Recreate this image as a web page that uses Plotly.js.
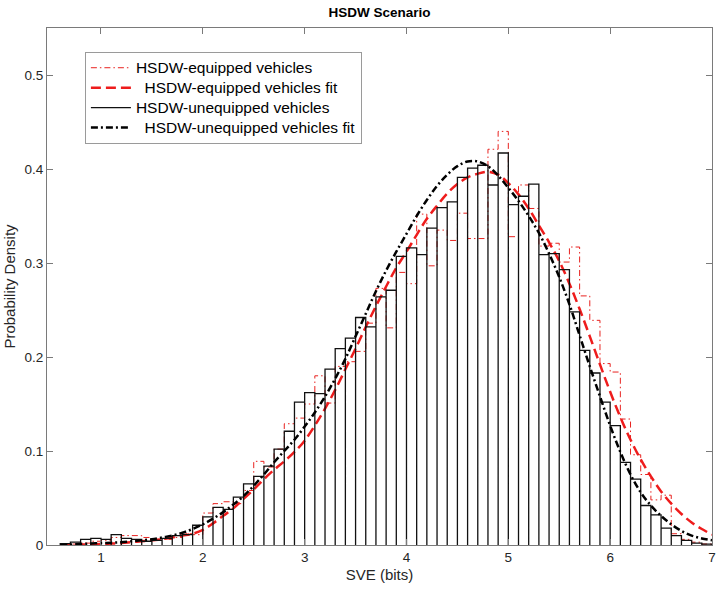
<!DOCTYPE html>
<html><head><meta charset="utf-8">
<script src="https://cdn.plot.ly/plotly-3.0.1.min.js"></script>
<style>html,body{margin:0;padding:0;background:#fff;} #chart{width:718px;height:591px;}</style>
</head><body><div id="chart"></div>
<script>
// Histogram bin edges (SVE, bits)
const binEdges = [0.6,0.7,0.8,0.9,1.0,1.1,1.2,1.3,1.4,1.5,1.6,1.7,1.8,1.9,2.0,2.1,2.2,2.3,2.4,2.5,2.6,2.7,2.8,2.9,3.0,3.1,3.2,3.3,3.4,3.5,3.6,3.7,3.8,3.9,4.0,4.1,4.2,4.3,4.4,4.5,4.6,4.7,4.8,4.9,5.0,5.1,5.2,5.3,5.4,5.5,5.6,5.7,5.8,5.9,6.0,6.1,6.2,6.3,6.4,6.5,6.6,6.7,6.8,6.9,7.0];

// HSDW-equipped vehicles (red dash-dot stairs), probability density per bin
const equippedDensity = [0.000,0.001,0.002,0.004,0.005,0.008,0.010,0.010,0.008,0.006,0.006,0.008,0.012,0.011,
  0.034,0.044,0.046,0.044,0.058,0.089,0.083,0.102,0.129,0.135,
  0.150,0.180,0.151,0.190,0.195,0.206,0.236,0.273,0.231,0.290,
  0.278,0.352,0.297,0.335,0.324,0.353,0.326,0.326,0.421,0.440,
  0.328,0.383,0.358,0.318,0.321,0.301,0.317,0.265,0.239,0.193,
  0.184,0.134,0.096,0.075,0.048,0.053,0.012,0.006,0.003,0.001];

// HSDW-unequipped vehicles (black bars)
const unequippedDensity = [0.0015,0.003,0.006,0.007,0.006,0.011,0.007,0.006,0.004,0.005,0.007,0.010,0.011,0.021,
  0.030,0.040,0.038,0.051,0.065,0.073,0.084,0.102,0.121,0.152,
  0.162,0.161,0.187,0.209,0.220,0.242,0.232,0.264,0.271,0.307,
  0.316,0.309,0.337,0.359,0.365,0.391,0.401,0.404,0.383,0.417,
  0.362,0.371,0.384,0.309,0.310,0.293,0.248,0.207,0.183,0.152,
  0.127,0.088,0.070,0.042,0.032,0.018,0.010,0.005,0.002,0.001];

// Fitted curves
const fitX = [0.6,0.7,0.8,0.9,1.0,1.1,1.2,1.3,1.4,1.5,1.6,1.7,1.8,1.9,2.0,2.1,2.2,2.3,2.4,2.5,2.6,2.7,2.8,2.9,3.0,3.1,3.2,3.3,3.4,3.5,3.6,3.7,3.8,3.9,4.0,4.1,4.2,4.3,4.4,4.5,4.6,4.7,4.8,4.9,5.0,5.1,5.2,5.3,5.4,5.5,5.6,5.7,5.8,5.9,6.0,6.1,6.2,6.3,6.4,6.5,6.6,6.7,6.8,6.9,7.0];
const equippedFit = [0.000,0.0003,0.0005,0.0008,0.001,0.0015,0.002,0.003,0.004,0.005,0.006,0.008,0.010,0.012,
  0.016,0.023,0.031,0.039,0.049,0.059,0.070,0.080,0.089,0.099,
  0.111,0.127,0.145,0.165,0.187,0.209,0.232,0.254,0.275,0.295,
  0.312,0.330,0.347,0.361,0.374,0.384,0.391,0.395,0.397,0.394,
  0.385,0.373,0.358,0.340,0.322,0.302,0.278,0.251,0.222,0.192,
  0.163,0.136,0.112,0.091,0.073,0.057,0.044,0.033,0.024,0.017,0.011];
const unequippedFit = [0.000,0.0005,0.001,0.0015,0.002,0.0025,0.003,0.004,0.005,0.006,0.008,0.010,0.013,0.017,
  0.022,0.028,0.035,0.043,0.052,0.063,0.075,0.088,0.100,0.112,
  0.126,0.141,0.158,0.177,0.198,0.222,0.246,0.270,0.292,0.312,
  0.331,0.350,0.367,0.382,0.394,0.403,0.408,0.408,0.403,0.393,
  0.380,0.366,0.350,0.332,0.310,0.285,0.256,0.223,0.190,0.158,
  0.127,0.099,0.075,0.056,0.042,0.031,0.022,0.015,0.010,0.007,0.005];

const seriesNames = ['HSDW-equipped vehicles','\u00a0\u00a0HSDW-equipped vehicles fit','HSDW-unequipped vehicles','\u00a0\u00a0HSDW-unequipped vehicles fit'];
const xTickVals = [1,2,3,4,5,6,7];
const xTickText = ['1','2','3','4','5','6','7'];
const yTickVals = [0,0.1,0.2,0.3,0.4,0.5];
const yTickText = ['0','0.1','0.2','0.3','0.4','0.5'];

function stairsPath(edges, h){
  const xs=[edges[0]], ys=[0];
  for(let i=0;i<h.length;i++){ xs.push(edges[i],edges[i+1]); ys.push(h[i],h[i]); }
  xs.push(edges[edges.length-1]); ys.push(0);
  return {x:xs,y:ys};
}
function barsPath(edges, h){
  const xs=[], ys=[];
  for(let i=0;i<h.length;i++){ xs.push(edges[i],edges[i],edges[i+1],edges[i+1]); ys.push(0,h[i],h[i],0); }
  return {x:xs,y:ys};
}
function legendLabel(s){ return '<span style="font-size:15.5px">' + s + '</span>'; }

const st = stairsPath(binEdges, equippedDensity);
const bp = barsPath(binEdges, unequippedDensity);

const traces = [
  {type:'scatter', mode:'lines', x:st.x, y:st.y, name:legendLabel(seriesNames[0]),
   line:{color:'#e8221f', width:1, dash:'6px,3px,1.5px,3px'}, hoverinfo:'skip'},
  {type:'scatter', mode:'lines', x:fitX, y:equippedFit, name:legendLabel(seriesNames[1]),
   line:{color:'#ee1c1c', width:2.5, dash:'10px,5px', shape:'spline'}},
  {type:'scatter', mode:'lines', x:bp.x, y:bp.y, name:legendLabel(seriesNames[2]),
   line:{color:'#111', width:1.3}, hoverinfo:'skip'},
  {type:'scatter', mode:'lines', x:fitX, y:unequippedFit, name:legendLabel(seriesNames[3]),
   line:{color:'#000', width:2.5, dash:'7px,3px,2px,3px', shape:'spline'}}
];

const axisColor = '#7a7a7a';
const fam = 'Liberation Sans, Arial, sans-serif';
const layout = {
  width:718, height:591,
  margin:{l:47, r:6, t:28, b:46, pad:0},
  paper_bgcolor:'#fff', plot_bgcolor:'#fff',
  font:{family:fam, size:13, color:'#262626'},
  showlegend:true,
  title:{text:'<b>HSDW Scenario</b>', x:0.5, xref:'paper', xanchor:'center', y:0.979, yref:'container', yanchor:'middle',
         font:{size:13.5, color:'#000', family:fam}},
  xaxis:{range:[0.47,7.0], tickmode:'array', tickvals:xTickVals, ticktext:xTickText,
         ticks:'inside', ticklen:6, tickcolor:axisColor, tickwidth:1,
         showline:true, linecolor:axisColor, linewidth:1, mirror:'ticks',
         showgrid:false, zeroline:false, automargin:false,
         tickfont:{size:13.5, color:'#262626'},
         title:{text:'SVE (bits)', standoff:5, font:{size:15, color:'#262626'}}},
  yaxis:{range:[0,0.55], tickmode:'array', tickvals:yTickVals, ticktext:yTickText,
         ticks:'inside', ticklen:6, tickcolor:axisColor, tickwidth:1,
         showline:true, linecolor:axisColor, linewidth:1, mirror:'ticks',
         showgrid:false, zeroline:false, automargin:false,
         tickfont:{size:13.5, color:'#262626'},
         title:{text:'Probability Density', standoff:5, font:{size:15, color:'#262626'}}},
  legend:{x:0.057, y:0.954, xanchor:'left', yanchor:'top', bgcolor:'#fff',
          bordercolor:'#9a9a9a', borderwidth:1, traceorder:'normal',
          font:{size:13, color:'#000', family:fam},
          tracegroupgap:0, itemwidth:40}
};

Plotly.newPlot('chart', traces, layout, {staticPlot:true, displayModeBar:false});
</script>
</body></html>
